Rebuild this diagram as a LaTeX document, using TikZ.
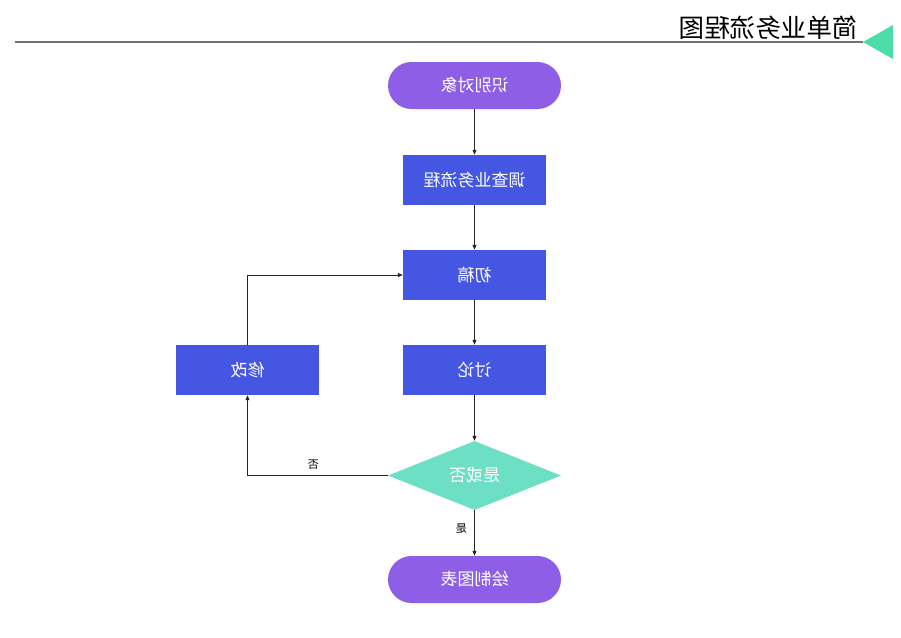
\documentclass[tikz,border=0pt]{standalone}
\usepackage{fontspec}
\setmainfont{Noto Sans CJK SC}
\usepackage{graphicx}
\usetikzlibrary{shapes.geometric,arrows.meta}
\definecolor{pillc}{HTML}{8E5FE6}
\definecolor{boxc}{HTML}{4557E2}
\definecolor{diac}{HTML}{6CDFC5}
\definecolor{tric}{HTML}{4DDBA7}
\newcommand{\mirtext}[1]{\scalebox{-1}[1]{#1}}
\tikzset{
  pill/.style={rounded corners=23.5pt, fill=pillc, minimum width=173pt, minimum height=47pt, inner sep=0pt, text=white, font=\fontsize{17}{20}\selectfont},
  stepbox/.style={fill=boxc, minimum width=143pt, minimum height=50pt, inner sep=0pt, text=white, font=\fontsize{17}{20}\selectfont},
  decide/.style={diamond, aspect=2.5, fill=diac, minimum width=173pt, minimum height=69pt, inner sep=0pt, text=white, font=\fontsize{17}{20}\selectfont},
  conn/.style={draw=black!85, line width=0.8pt, -{Triangle[length=5pt,width=4pt]}},
  lbl/.style={font=\fontsize{11}{13}\selectfont, text=black}
}
\begin{document}
\begin{tikzpicture}[x=1pt,y=-1pt]
\useasboundingbox (0,0) rectangle (901,637);
% title
\node[anchor=east, inner sep=0pt, font=\fontsize{25.5}{30}\selectfont] (title) at (858,28) {\mirtext{简单业务流程图}};
\coordinate (lineL) at (15,42);
\coordinate (lineR) at (863,42);
\draw[draw=black!55, line width=1.2pt] (lineL) -- (lineR);
\fill[tric] (863,42) -- (893,25) -- (893,59) -- cycle;
% nodes
\node[pill] (n1) at (474.5,85.5) {\mirtext{识别对象}};
\node[stepbox] (n2) at (474.5,180) {\mirtext{调查业务流程}};
\node[stepbox] (n3) at (474.5,275) {\mirtext{初稿}};
\node[stepbox] (n4) at (474.5,370) {\mirtext{讨论}};
\node[stepbox] (n5) at (247.5,370) {\mirtext{修改}};
\node[decide] (d) at (474.5,475.5) {\mirtext{是或否}};
\node[pill] (n6) at (474.5,579.5) {\mirtext{绘制图表}};
% connectors
\draw[conn] (n1) -- (n2);
\draw[conn] (n2) -- (n3);
\draw[conn] (n3) -- (n4);
\draw[conn] (n4) -- (d);
\draw[conn] (d) -- node[lbl, pos=0.4, left=4pt] {\mirtext{是}} (n6);
\draw[conn] (d.west) -| node[lbl, pos=0.265, above=2pt] {\mirtext{否}} (n5.south);
\draw[conn] (n5.north) |- (n3.west);
\end{tikzpicture}
\end{document}
